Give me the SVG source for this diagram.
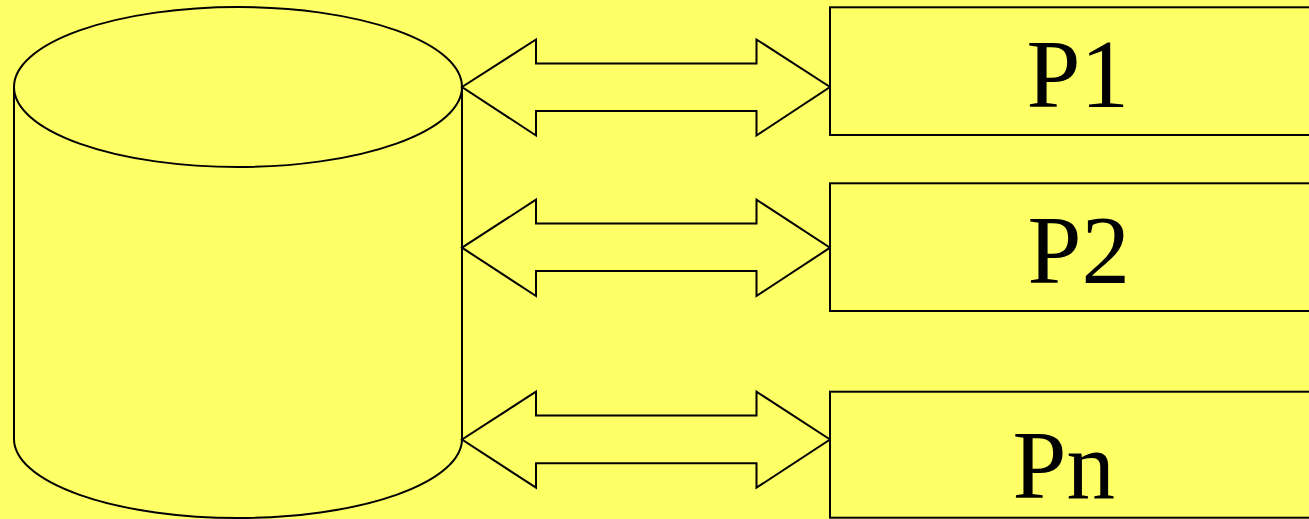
<svg xmlns="http://www.w3.org/2000/svg" width="1309" height="519" viewBox="0 0 1309 519">
<style>
.s{fill:#FFFF66;stroke:#000;stroke-width:2;stroke-linejoin:miter}
.t{font-family:"Liberation Serif","Times New Roman",serif;font-size:97px;fill:#000}
</style>
<rect x="0" y="0" width="1309" height="519" fill="#FFFF66"/>
<g id="cylinder">
<path class="s" d="M14,87 L14,439 A224,79 0 0 0 462,439 L462,87"/>
<ellipse class="s" cx="238" cy="87" rx="224" ry="80"/>
</g>
<g id="connectors">
<path class="s" d="M462,87 L536,39.5 L536,63.5 L756.5,63.5 L756.5,39.5 L830,87 L756.5,135.5 L756.5,111 L536,111 L536,135.5 Z"/>
<path class="s" d="M462,247.7 L536,199.7 L536,223.5 L756.5,223.5 L756.5,199.7 L830,247.7 L756.5,296 L756.5,271 L536,271 L536,296 Z"/>
<path class="s" d="M462,439.5 L536,391.7 L536,415.5 L756.5,415.5 L756.5,391.7 L830,439.5 L756.5,487.7 L756.5,463.3 L536,463.3 L536,487.7 Z"/>
</g>
<g id="p1">
<rect class="s" x="830" y="7.3" width="490" height="127.7"/>
<text class="t" x="1026.5" y="107">P1</text>
</g>
<g id="p2">
<rect class="s" x="830" y="183.3" width="490" height="127.7"/>
<text class="t" x="1027.5" y="282.7">P2</text>
</g>
<g id="pn">
<rect class="s" x="830" y="391.7" width="490" height="126"/>
<text class="t" x="1012.5" y="498">Pn</text>
</g>
</svg>
